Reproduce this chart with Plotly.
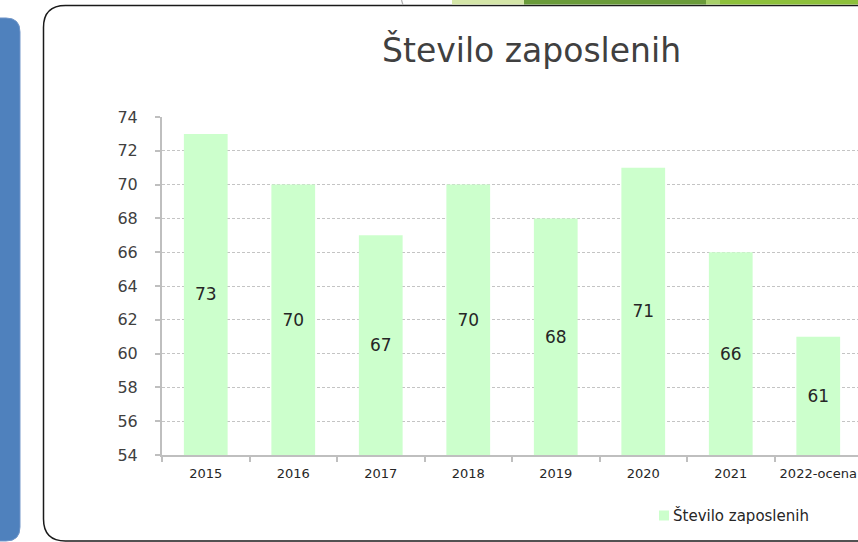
import plotly.graph_objects as go

# Employee count per year (last year is an estimate)
years = ["2015", "2016", "2017", "2018", "2019", "2020", "2021", "2022-ocena"]
employees = [73, 70, 67, 70, 68, 71, 66, 61]
y_ticks = [54, 56, 58, 60, 62, 64, 66, 68, 70, 72, 74]
axis_floor = 54
series_name = "Število zaposlenih"
chart_title = "Število zaposlenih"

W, H = 858, 542


def px(x):
    return x / W


def py(y):
    return 1 - y / H


def rounded_path(x0, y0, x1, y1, r):
    """Rounded rectangle in figure pixels, converted to paper coordinates."""
    pts = [
        ("M", [(x0 + r, y0)]),
        ("L", [(x1 - r, y0)]),
        ("Q", [(x1, y0), (x1, y0 + r)]),
        ("L", [(x1, y1 - r)]),
        ("Q", [(x1, y1), (x1 - r, y1)]),
        ("L", [(x0 + r, y1)]),
        ("Q", [(x0, y1), (x0, y1 - r)]),
        ("L", [(x0, y0 + r)]),
        ("Q", [(x0, y0), (x0 + r, y0)]),
    ]
    out = []
    for cmd, ps in pts:
        out.append(cmd + " ".join(f"{px(a):.5f},{py(b):.5f}" for a, b in ps))
    return " ".join(out) + " Z"


fig = go.Figure()

fig.add_trace(
    go.Bar(
        x=years,
        y=[v - axis_floor for v in employees],
        base=axis_floor,
        width=0.5,
        name=series_name,
        marker=dict(color="#ccffcc", line=dict(width=0)),
        text=[str(v) for v in employees],
        textposition="inside",
        insidetextanchor="middle",
        textangle=0,
        constraintext="none",
        textfont=dict(family="DejaVu Sans", size=17, color="#262626"),
        hovertemplate="%{x}: %{text}<extra></extra>",
        showlegend=False,
    )
)

cat_px = 87.5
x_left = 162
x_range = [-0.5, -0.5 + (W - x_left) / cat_px]

shapes = []
# left blue side panel
shapes.append(dict(type="path", path=rounded_path(-30, 18, 20, 541, 14),
                   xref="paper", yref="paper", fillcolor="#4f81bd",
                   line=dict(color="#6f95c8", width=1), layer="below"))
# white content panel with dark border
shapes.append(dict(type="path", path=rounded_path(43.5, 5.5, 900, 541, 22),
                   xref="paper", yref="paper", fillcolor="rgba(0,0,0,0)",
                   line=dict(color="#1a1a1a", width=1.5), layer="below"))
# header strip pieces along the top edge
for x0, x1, col in [(452, 524, "#d5e6a8"), (524, 706, "#6a9b3a"),
                    (706, 720, "#a8d06a"), (720, 858, "#8dc03b")]:
    shapes.append(dict(type="rect", xref="paper", yref="paper",
                       x0=px(x0), x1=px(x1), y0=py(4.5), y1=py(0),
                       fillcolor=col, line=dict(width=0), layer="below"))
shapes.append(dict(type="line", xref="paper", yref="paper",
                   x0=px(401.5), y0=py(0), x1=px(403), y1=py(5),
                   line=dict(color="#b0b0b0", width=1.2)))
# legend swatch
shapes.append(dict(type="rect", xref="paper", yref="paper",
                   x0=px(659), x1=px(669), y0=py(520.5), y1=py(510.5),
                   fillcolor="#ccffcc", line=dict(width=0)))

annotations = [
    dict(text=chart_title, xref="paper", yref="paper", x=px(531), y=py(50),
         xanchor="center", yanchor="middle", showarrow=False,
         font=dict(family="DejaVu Sans", size=33, color="#404040")),
    dict(text=series_name, xref="paper", yref="paper", x=px(671), y=py(515),
         xanchor="left", yanchor="middle", showarrow=False,
         font=dict(family="DejaVu Sans", size=15, color="#262626")),
]

fig.update_layout(
    template="none",
    width=W, height=H,
    autosize=False,
    margin=dict(l=0, r=0, t=0, b=0, pad=0, autoexpand=False),
    paper_bgcolor="white",
    plot_bgcolor="white",
    showlegend=False,
    shapes=shapes,
    annotations=annotations,
    xaxis=dict(
        domain=[px(x_left), 1],
        type="category",
        range=x_range,
        automargin=False,
        showline=True, linecolor="#bfbfbf", linewidth=2,
        ticks="outside", tickson="boundaries", ticklen=5,
        tickcolor="#bfbfbf", tickwidth=2,
        showgrid=False, zeroline=False,
        tickfont=dict(family="DejaVu Sans", size=13, color="#262626"),
        ticklabelstandoff=5,
    ),
    yaxis=dict(
        domain=[py(455), py(117)],
        range=[54, 74],
        tickvals=y_ticks,
        automargin=False,
        showline=True, linecolor="#bfbfbf", linewidth=2,
        ticks="outside", ticklen=5, tickcolor="#bfbfbf", tickwidth=2,
        showgrid=True, gridcolor="#c4c4c4", gridwidth=1, griddash="3px,2px",
        zeroline=False,
        tickfont=dict(family="DejaVu Sans", size=16, color="#404040"),
        ticklabelstandoff=14,
    ),
)

fig.write_html("out.html", config={"responsive": False})
